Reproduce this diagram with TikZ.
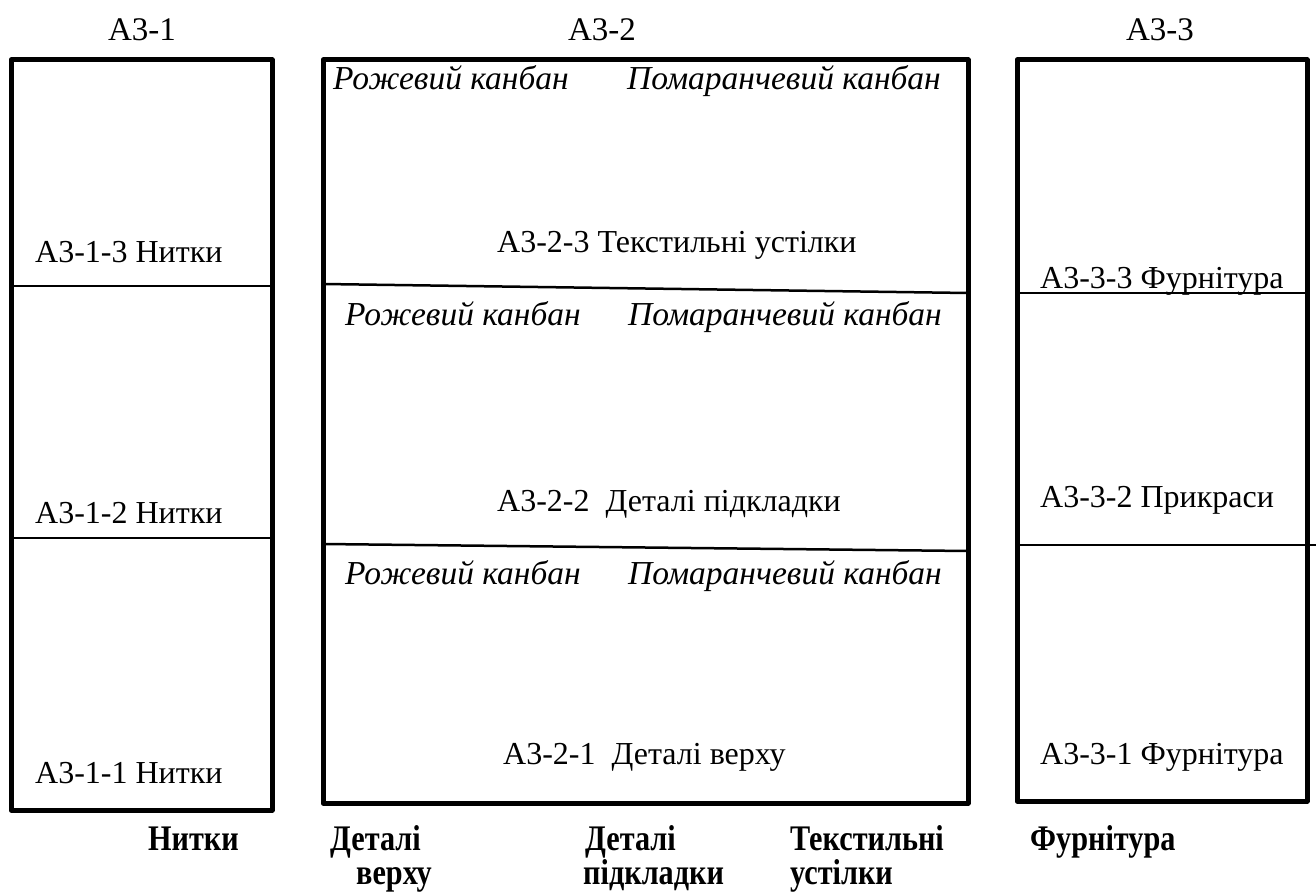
\documentclass[tikz,border=0pt]{standalone}
\usepackage{fontspec}
\setmainfont{Liberation Serif}
\newfontfamily\condserif[FakeStretch=0.84]{Liberation Serif}

\begin{document}
\begin{tikzpicture}[x=1pt,y=-1pt,
  frame/.style={draw, line width=5pt, line join=round, inner sep=0pt, outer sep=0pt, anchor=north west},
  divider/.style={line width=2.5pt},
  lbl/.style={anchor=base west, inner sep=0pt, font=\fontsize{32}{36}\selectfont},
  kanban/.style={anchor=base west, inner sep=0pt, font=\fontsize{33.5}{38}\selectfont\itshape},
  title/.style={anchor=base, inner sep=0pt, font=\fontsize{33}{38}\selectfont},
  group/.style={anchor=base west, inner sep=0pt, font=\fontsize{36}{40}\condserif\bfseries}]

\useasboundingbox (0,0) rectangle (1316,893);

% storage zones
\node[frame, minimum width=261pt, minimum height=750pt] (z1) at (11,60) {};
\node[frame, minimum width=645pt, minimum height=743pt] (z2) at (323,60) {};
\node[frame, minimum width=290pt, minimum height=741pt] (z3) at (1017,60) {};

% zone titles
\node[title] (t1) at (142,41) {A3-1};
\node[title] (t2) at (602,41) {A3-2};
\node[title] (t3) at (1160,41) {A3-3};

% shelves of A3-1
\coordinate (d11a) at (z1.west |- 0,286);
\coordinate (d11b) at (z1.east |- 0,286);
\coordinate (d12a) at (z1.west |- 0,538);
\coordinate (d12b) at (z1.east |- 0,538);
\draw[divider] (d11a) -- (d11b);
\draw[divider] (d12a) -- (d12b);

% shelves of A3-2
\coordinate (d21a) at (z2.west |- 0,284);
\coordinate (d21b) at (z2.east |- 0,293);
\coordinate (d22a) at (z2.west |- 0,544);
\coordinate (d22b) at (z2.east |- 0,551);
\draw[divider] (d21a) -- (d21b);
\draw[divider] (d22a) -- (d22b);

% shelves of A3-3
\coordinate (d31a) at (z3.west |- 0,293);
\coordinate (d31b) at (z3.east |- 0,293);
\coordinate (d32a) at (z3.west |- 0,545);
\coordinate (d32b) at (1316,545);
\draw[divider] (d31a) -- (d31b);
\draw[divider] (d32a) -- (d32b);

% A3-1 labels
\node[lbl] (l13) at (35,262) {A3-1-3 Нитки};
\node[lbl] (l12) at (35,523) {A3-1-2 Нитки};
\node[lbl] (l11) at (35,783) {A3-1-1 Нитки};

% A3-2 kanban cards
\node[kanban] (k3r) at (333,90) {Рожевий канбан};
\node[kanban] (k3o) at (627,90) {Помаранчевий канбан};
\node[kanban] (k2r) at (345,325) {Рожевий канбан};
\node[kanban] (k2o) at (628,325) {Помаранчевий канбан};
\node[kanban] (k1r) at (345,584) {Рожевий канбан};
\node[kanban] (k1o) at (628,584) {Помаранчевий канбан};

% A3-2 labels
\node[lbl] (l23) at (497,252) {A3-2-3 Текстильні устілки};
\node[lbl] (l22) at (497,511) {A3-2-2\ \ Деталі підкладки};
\node[lbl] (l21) at (503,764) {A3-2-1\ \ Деталі верху};

% A3-3 labels
\node[lbl] (l33) at (1040,288) {A3-3-3 Фурнітура};
\node[lbl] (l32) at (1040,507) {A3-3-2 Прикраси};
\node[lbl] (l31) at (1040,764) {A3-3-1 Фурнітура};

% material groups
\node[group] (g1) at (148,850) {Нитки};
\node[group] (g2a) at (330,850) {Деталі};
\node[group] (g2b) at (356,884) {верху};
\node[group] (g3a) at (585,850) {Деталі};
\node[group] (g3b) at (583,884) {підкладки};
\node[group] (g4a) at (790,850) {Текстильні};
\node[group] (g4b) at (790,884) {устілки};
\node[group] (g5) at (1030,850) {Фурнітура};

\end{tikzpicture}
\end{document}
